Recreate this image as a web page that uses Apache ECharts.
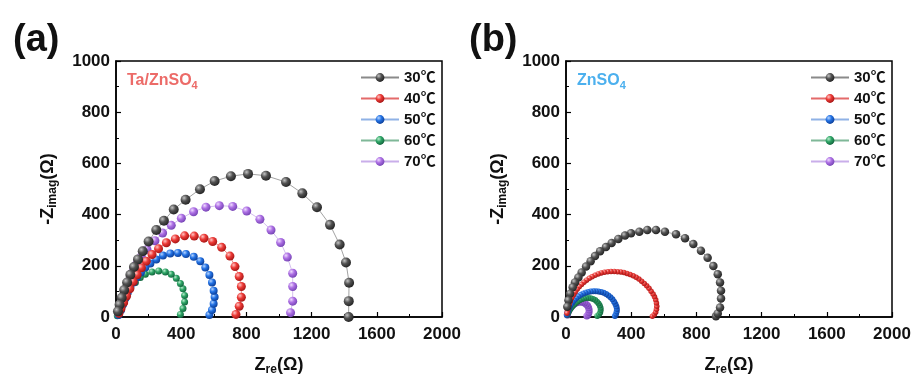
<!DOCTYPE html>
<html>
<head>
<meta charset="utf-8">
<script src="https://cdn.jsdelivr.net/npm/echarts@6/dist/echarts.min.js"></script>
<style>
  html, body { margin: 0; padding: 0; background: #fff; overflow: hidden; }
  #chart { width: 915px; height: 381px; }
</style>
</head>
<body>
<div id="chart"></div>
<script>
// Nyquist plots: [Z_re, -Z_imag] in ohm, one list per temperature
var temps = ['30℃', '40℃', '50℃', '60℃', '70℃'];

// (a) Ta/ZnSO4
var taZn30 = [[1427,0],[1428,62],[1430,134],[1411,213],[1372,283],[1313,360],[1233,429],[1143,483],[1043,527],[920,552],[810,559],[705,550],[605,531],[515,499],[427,458],[354,420],[294,376],[247,340],[200,295],[164,257],[135,225],[110,195],[88,165],[68,135],[50,105],[35,75],[22,48],[12,22]];
var taZn40 = [[736,10],[756,42],[769,77],[769,119],[756,158],[730,197],[699,238],[648,272],[593,295],[540,308],[480,316],[421,317],[364,305],[309,290],[261,267],[221,244],[186,218],[156,192],[130,165],[106,138],[85,110],[65,82],[47,56],[31,33],[18,14]];
var taZn50 = [[573,8],[589,27],[599,52],[605,78],[599,103],[589,135],[573,164],[548,193],[517,218],[477,235],[429,246],[380,250],[333,248],[288,240],[247,225],[211,209],[180,193],[153,174],[129,155],[108,135],[88,116],[72,95],[57,72],[43,49],[31,27],[16,8]];
var taZn60 = [[395,10],[411,33],[421,59],[421,84],[411,110],[395,131],[370,151],[339,167],[303,176],[262,180],[221,176],[180,167],[149,154],[119,135],[88,116],[67,95],[47,72],[33,46],[17,20],[8,5]];
var taZn70 = [[1071,17],[1084,62],[1084,119],[1084,171],[1051,234],[1010,291],[951,340],[883,382],[802,414],[716,432],[634,435],[552,429],[476,411],[401,386],[339,358],[286,328],[239,298],[190,264],[155,236],[127,207],[102,175],[82,142],[61,108],[45,79],[29,47],[16,22]];

// (b) ZnSO4
var zn30 = [[920,3],[931,14],[945,37],[951,72],[951,103],[945,135],[931,167],[904,199],[869,231],[828,259],[781,285],[730,308],[675,323],[607,333],[552,340],[499,340],[450,333],[399,327],[362,318],[321,305],[280,289],[245,273],[209,257],[178,238],[151,218],[123,197],[96,174],[76,154],[55,135],[41,116],[25,91],[15,65],[8,40]];
var zn40 = [[530,3],[542,10],[550,19],[555,30],[557,42],[555,55],[550,67],[543,79],[534,90],[522,101],[509,112],[495,122],[480,131],[464,140],[447,148],[430,155],[412,161],[393,166],[374,170],[355,174],[336,176],[316,177],[296,178],[276,178],[256,177],[236,175],[216,172],[197,168],[178,163],[160,157],[143,151],[126,144],[110,136],[95,127],[81,118],[68,108],[56,97],[45,86],[35,74],[26,62],[19,50],[13,38],[9,26],[6,15]];
var zn50 = [[300,4],[307,12],[311,21],[312,31],[309,41],[303,51],[295,60],[285,69],[273,77],[260,84],[246,90],[231,95],[215,98],[199,100],[183,101],[167,101],[151,100],[135,98],[119,95],[104,91],[89,86],[75,80],[62,73],[50,65],[39,57],[29,48],[21,38],[14,28],[9,18],[5,9]];
var zn60 = [[192,4],[203,10],[210,18],[213,27],[212,36],[207,45],[200,53],[190,60],[179,66],[166,70],[152,73],[138,74],[124,74],[110,72],[96,69],[83,65],[70,60],[58,54],[47,47],[37,40],[28,32],[20,24],[13,16],[8,8]];
var zn70 = [[128,4],[136,10],[141,18],[142,27],[139,36],[133,44],[124,50],[113,55],[101,58],[88,59],[75,58],[62,55],[50,51],[39,45],[30,38],[22,31],[16,23],[11,15],[8,8]];

var xTicks = { min: 0, max: 2000, interval: 400 };
var yTicks = { min: 0, max: 1000, interval: 200 };

var FONT = 'Arial, "Liberation Sans", "Noto Sans CJK SC", sans-serif';

// sphere-like marker shading: highlight, body, rim
var palette = [
  { hi: '#c4c4c4', body: '#525252', rim: '#222222', line: '#8a8a8a' },
  { hi: '#ffc4c4', body: '#ec3a36', rim: '#a31414', line: '#e46a6a' },
  { hi: '#b4d4ff', body: '#2372e4', rim: '#0b3d96', line: '#8fb2e6' },
  { hi: '#b8eccc', body: '#2ea566', rim: '#12633c', line: '#7fb898' },
  { hi: '#efdcff', body: '#ad6fe4', rim: '#7443b3', line: '#c9aeea' }
];

function ball(p) {
  return new echarts.graphic.RadialGradient(0.35, 0.32, 0.72, [
    { offset: 0, color: p.hi },
    { offset: 0.45, color: p.body },
    { offset: 1, color: p.rim }
  ]);
}

var dataA = [taZn30, taZn40, taZn50, taZn60, taZn70];
var dataB = [zn30, zn40, zn50, zn60, zn70];
var sizeA = [10, 9, 8, 7, 9];
var sizeB = [8.5, 5.5, 6, 6, 7];

var series = [];
function addSeries(list, sizes, idx) {
  list.forEach(function (d, i) {
    series.push({
      name: temps[i],
      type: 'line',
      xAxisIndex: idx,
      yAxisIndex: idx,
      data: d,
      symbol: 'circle',
      symbolSize: sizes[i],
      showSymbol: true,
      animation: false,
      z: 10 - i,
      lineStyle: { width: 0.8, color: palette[i].line },
      itemStyle: { color: ball(palette[i]), borderWidth: 0 }
    });
  });
}
addSeries(dataA, sizeA, 0);
addSeries(dataB, sizeB, 1);

var axisNameRich = {
  m: { fontSize: 18, fontWeight: 'bold', fontFamily: FONT, color: '#111', lineHeight: 22 },
  s: { fontSize: 12, fontWeight: 'bold', fontFamily: FONT, color: '#111', lineHeight: 6, verticalAlign: 'bottom' }
};

function plain(v) { return String(v); }

function xAxis(gi) {
  return {
    type: 'value', gridIndex: gi,
    min: xTicks.min, max: xTicks.max, interval: xTicks.interval,
    name: '{m|Z}{s|re}{m|(Ω)}', nameLocation: 'middle', nameGap: 37,
    nameTextStyle: { rich: axisNameRich },
    axisLine: { show: true, lineStyle: { color: '#000', width: 1.5 } },
    axisTick: { show: true, inside: true, length: 5, lineStyle: { color: '#000', width: 1.2 } },
    minorTick: { show: true, splitNumber: 2, length: 3, lineStyle: { color: '#000', width: 1 } },
    splitLine: { show: false },
    axisLabel: { fontSize: 17, fontWeight: 'bold', fontFamily: FONT, color: '#111', margin: 9, formatter: plain }
  };
}
function yAxis(gi) {
  return {
    type: 'value', gridIndex: gi,
    min: yTicks.min, max: yTicks.max, interval: yTicks.interval,
    name: '{m|-Z}{s|imag}{m|(Ω)}', nameLocation: 'middle', nameGap: 57, nameRotate: 90,
    nameTextStyle: { rich: axisNameRich },
    axisLine: { show: true, lineStyle: { color: '#000', width: 1.5 } },
    axisTick: { show: true, inside: true, length: 5, lineStyle: { color: '#000', width: 1.2 } },
    minorTick: { show: true, splitNumber: 2, length: 3, lineStyle: { color: '#000', width: 1 } },
    splitLine: { show: false },
    axisLabel: { fontSize: 17, fontWeight: 'bold', fontFamily: FONT, color: '#111', margin: 6, formatter: plain }
  };
}

function legend(left) {
  return {
    orient: 'vertical', left: left, top: 65,
    itemWidth: 38, itemHeight: 11, itemGap: 6,
    data: temps,
    selectedMode: false,
    textStyle: { fontSize: 15, fontWeight: 'bold', fontFamily: FONT, color: '#111' }
  };
}

var subRich = function (color) {
  return {
    m: { fontSize: 16, fontWeight: 'bold', fontFamily: FONT, color: color, lineHeight: 20 },
    s: { fontSize: 11, fontWeight: 'bold', fontFamily: FONT, color: color, lineHeight: 6, verticalAlign: 'bottom' }
  };
};

var option = {
  backgroundColor: '#fff',
  animation: false,
  title: [
    { text: '(a)', left: 8, top: 17, textStyle: { fontSize: 38, fontWeight: 'bold', fontFamily: FONT, color: '#111' } },
    { text: '(b)', left: 464, top: 17, textStyle: { fontSize: 38, fontWeight: 'bold', fontFamily: FONT, color: '#111' } },
    { text: '{m|Ta/ZnSO}{s|4}', left: 122, top: 66, textStyle: { rich: subRich('#ec6b68') } },
    { text: '{m|ZnSO}{s|4}', left: 572, top: 66, textStyle: { rich: subRich('#4cb0ee') } }
  ],
  grid: [
    { left: 116, width: 326, top: 61, height: 261, show: true, borderColor: '#000', borderWidth: 1.5, backgroundColor: 'transparent' },
    { left: 566, width: 326, top: 61, height: 261, show: true, borderColor: '#000', borderWidth: 1.5, backgroundColor: 'transparent' }
  ],
  legend: [legend(355), legend(805)],
  xAxis: [xAxis(0), xAxis(1)],
  yAxis: [yAxis(0), yAxis(1)],
  series: series
};

var chart = echarts.init(document.getElementById('chart'), null, { renderer: 'canvas', width: 915, height: 381 });
chart.setOption(option);
</script>
</body>
</html>
